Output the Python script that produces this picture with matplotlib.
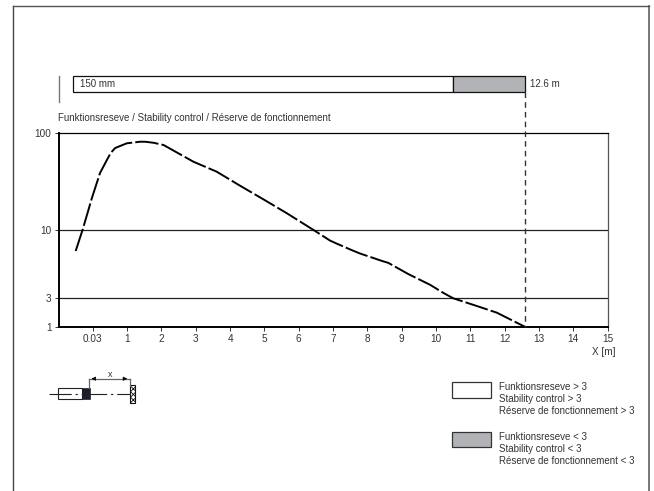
import matplotlib
matplotlib.use("Agg")
import matplotlib.pyplot as plt
import numpy as np
from matplotlib.patches import Rectangle

plt.rcParams["font.family"] = ["Liberation Sans", "DejaVu Sans"]
plt.rcParams["hatch.linewidth"] = 0.6

W, H = 654, 491
TEXT = "#333333"

# curve, x is the tick position (0 is the tick labelled 0.03)
curve_x = [-0.5, -0.3, -0.13, -0.03, 0.21, 0.31, 0.41, 0.52, 0.65, 0.99, 1.38, 1.52, 1.77, 2.06, 2.93, 3.61, 4.29, 4.97,
           5.65, 6.43, 6.91, 7.09, 7.55, 7.79, 8.42, 8.61, 9.19, 9.83, 10.21, 10.5, 11.19, 11.77, 12.6]
curve_y = [6.9, 10, 16, 21.2, 38.7, 45.2, 52.7, 62.2, 70, 78.3, 81.3, 81.3, 79.3, 75.2, 50.6, 39.9, 28.6, 20.7,
           14.9, 10, 8.3, 7.9, 7.0, 6.6, 5.8, 5.6, 4.6, 3.8, 3.3, 3, 2.23, 1.73, 1]

x_ticks = list(range(0, 16))
x_labels = ["0.03"] + [str(i) for i in range(1, 16)]
y_ticks = [1, 3, 10, 100]
y_fracs = [0, 0.148, 0.5, 1]

bar_start = -0.57
bar_split = 10.5
bar_end = 12.6

legend_text = [
    "Funktionsreseve > 3\nStability control > 3\nRéserve de fonctionnement > 3",
    "Funktionsreseve < 3\nStability control < 3\nRéserve de fonctionnement < 3",
]
GREY = "#b1b3b6"


def px_box(l, t, r, b):
    return [l / W, 1 - b / H, (r - l) / W, (b - t) / H]


# the y axis of the original is not a true log scale, 3 sits too low
def forward(v):
    return np.interp(np.log10(np.maximum(v, 1e-6)), np.log10(y_ticks), y_fracs)


def inverse(f):
    return 10 ** np.interp(f, y_fracs, np.log10(y_ticks))


fig = plt.figure(figsize=(W / 100, H / 100), dpi=100)

# page frame
fig.add_artist(plt.Line2D([12.7 / W] * 2, [1 - 6.3 / H, 0], color="#444444", lw=1.0))
fig.add_artist(plt.Line2D([648.7 / W] * 2, [1 - 6.3 / H, 0], color="#777777", lw=1.4))
fig.add_artist(plt.Line2D([12.7 / W, 648.7 / W], [1 - 6.3 / H] * 2, color="#555555", lw=1.0))

ax = fig.add_axes(px_box(58.5, 133, 607.7, 327))
ax.set_xlim(-1, 15)
ax.set_ylim(0, 1)
ax.set_yscale("function", functions=(forward, inverse))
ax.set_ylim(1, 100)

for v in [3, 10]:
    ax.axhline(v, color="#222222", lw=0.9)
ax.plot(curve_x, curve_y, color="black", lw=1.4, dashes=(12, 1.6), clip_on=False)

ax.set_xticks(x_ticks)
ax.set_xticklabels(x_labels)
ax.set_yticks(y_ticks)
ax.set_yticklabels([str(v) for v in y_ticks])
ax.minorticks_off()
ax.tick_params(axis="both", labelsize=7.2, colors=TEXT, length=3, width=0.7)
ax.tick_params(axis="x", pad=2)
ax.tick_params(axis="y", length=3, pad=2)
ax.spines["left"].set_linewidth(1.4)
ax.spines["bottom"].set_linewidth(1.4)
ax.spines["top"].set_linewidth(0.9)
ax.spines["right"].set_linewidth(0.9)
ax.spines["right"].set_color("#555555")

ax.text(0, 1.05, "Funktionsreseve / Stability control / Réserve de fonctionnement",
        transform=ax.transAxes, fontsize=7.0, color=TEXT, va="bottom", ha="left")
ax.text(15.23, -0.129, "X [m]", transform=ax.get_xaxis_transform(), fontsize=7.2, color=TEXT, ha="right", va="center")

# range bar above the plot, shares the x scale
bar = fig.add_axes(px_box(58.5, 76, 607.7, 92))
bar.set_xlim(-1, 15)
bar.set_ylim(0, 1)
bar.axis("off")
bar.barh(0.5, bar_split - bar_start, left=bar_start, height=1, color="white", edgecolor="#111111", lw=0.9, clip_on=False)
bar.barh(0.5, bar_end - bar_split, left=bar_split, height=1, color=GREY, edgecolor="#111111", lw=0.9, clip_on=False)
bar.text(bar_start + 0.2, 0.5, "150 mm", fontsize=7.0, color=TEXT, va="center")
bar.text(bar_end + 0.13, 0.5, "12.6 m", fontsize=7.0, color=TEXT, va="center")

fig.add_artist(plt.Line2D([58.7 / W] * 2, [1 - 76 / H, 1 - 102 / H], color="#777777", lw=1.0))

# dashed drop line from the bar end to the x axis
x_drop = ax.transData.transform((bar_end, 1))[0] / W
fig.add_artist(plt.Line2D([x_drop, x_drop], [1 - 92 / H, 1 - 327 / H], color="#333333", lw=1.0, dashes=(4, 3)))

# legend boxes
for top, col, txt in zip([382.3, 431.7], ["white", GREY], legend_text):
    fig.add_artist(Rectangle((452.3 / W, 1 - (top + 15.4) / H), 38.4 / W, 15.4 / H, transform=fig.transFigure,
                             facecolor=col, edgecolor="#333333", lw=0.9))
    fig.text(499 / W, 1 - (top + 17) / H, txt, fontsize=7.0, color=TEXT, va="center", linespacing=1.25)

# sensor sketch, in pixels
sk = fig.add_axes([0, 0, 1, 1], facecolor="none")
sk.set_xlim(0, W)
sk.set_ylim(H, 0)
sk.axis("off")
sk.add_patch(Rectangle((58.3, 388.3), 24, 11, fc="white", ec="#222222", lw=0.8))
sk.add_patch(Rectangle((82, 388.3), 7.7, 11, fc="#1b1e28", ec="#1b1e28", lw=0.5))
sk.plot([49.3, 82], [394.3, 394.3], color="#222222", lw=0.8, dashes=(20, 3.5, 2, 3.5))
sk.plot([90, 129.5], [394.3, 394.3], color="#222222", lw=0.8, dashes=(15, 3.5, 2, 3.5))
sk.add_patch(Rectangle((129.5, 385), 5.2, 18.3, fc="white", ec="#111111", lw=0.8, hatch="xxxxxx"))
sk.plot([88.7, 88.7], [378.7, 388], color="#666666", lw=0.9)
sk.plot([130, 130], [378.7, 386], color="#666666", lw=0.9)
sk.plot([88.7, 130], [378.7, 378.7], color="#666666", lw=0.9)
sk.annotate("", xy=(88.7, 378.7), xytext=(96, 378.7), arrowprops=dict(arrowstyle="-|>", color="black", lw=0.5, mutation_scale=6))
sk.annotate("", xy=(130, 378.7), xytext=(122.5, 378.7), arrowprops=dict(arrowstyle="-|>", color="black", lw=0.5, mutation_scale=6))
sk.text(109.7, 374.3, "x", fontsize=6.5, color=TEXT, ha="center", va="center")

fig.savefig("out.png", dpi=100)
